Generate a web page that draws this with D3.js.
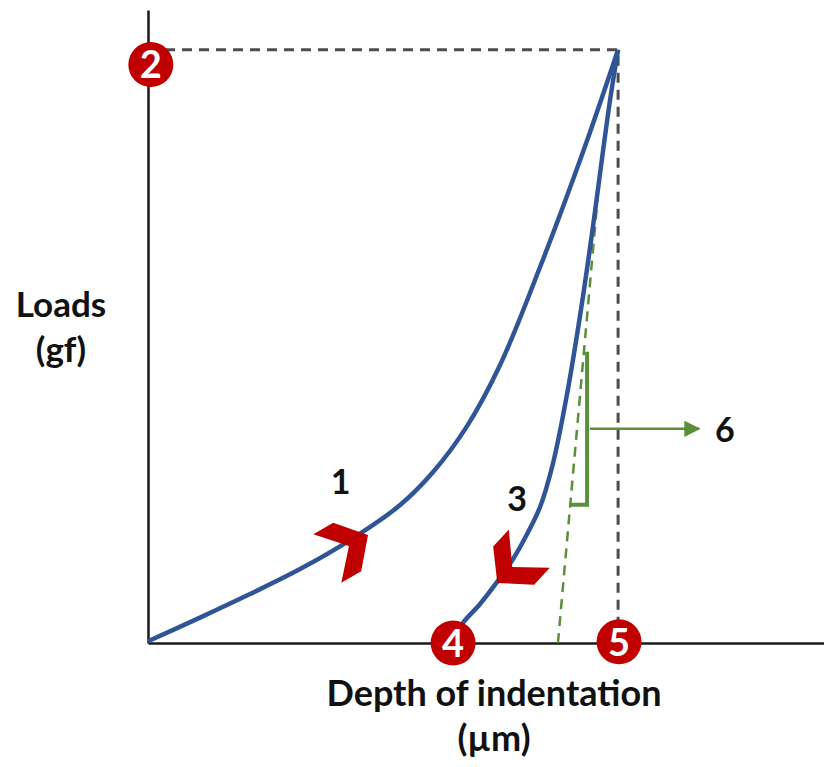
<!DOCTYPE html>
<html><head><meta charset="utf-8">
<script src="https://cdn.jsdelivr.net/npm/d3@7"></script>
<style>
html,body{margin:0;padding:0;background:#fff;}
svg text{font-family:Lato,"Open Sans",sans-serif;font-weight:700;}
</style></head>
<body>
<script>
// ---- data (depth in µm, load in gf; arbitrary units) ----
const loadingDepth = [0, 1.106, 2.170, 3.234, 4.298, 5.362, 6.064, 6.787, 7.489, 8.340, 9.255, 10];
const loadingLoad  = [0.3, 4.28, 8.25, 12.46, 17.35, 23.25, 28.82, 36.56, 46.85, 63.37, 82.80, 100];
const unloadDepth  = [6.468, 6.681, 7.064, 7.426, 7.766, 8.064, 8.340, 8.617, 8.915, 9.213, 9.447, 9.660, 9.830, 10];
const unloadLoad   = [0, 3.20, 6.58, 10.29, 14.17, 18.38, 22.93, 30.35, 41.99, 56.32, 69.14, 81.79, 91.57, 100];
const tangentDepth = [8.72, 9.57];
const tangentLoad  = [0, 75.5];
const peakDepth = 10, peakLoad = 100;
const stepLabels = ["1", "3", "6"];
const stepDepth  = [4.1, 7.85, 12.27];
const stepLoad   = [27.4, 24.6, 36.1];
const markerLabels = ["2", "4", "5"];
const markerDepth  = [0.06, 6.49, 10.02];
const markerLoad   = [97.5, 0, 0.2];
const chevronDepth = [4.68, 7.43];
const chevronLoad  = [18.2, 10.1];
const chevronAngle = [-30, 133];
const bracketDepth = [8.96, 9.34, 9.34];
const bracketLoad  = [23.3, 23.3, 49.1];
const arrowDepth = [9.40, 11.72];
const arrowLoad  = [36.1, 36.1];
const xTitle = ["Depth of indentation", "(µm)"];
const yTitle = ["Loads", "(gf)"];

const W = 824, H = 767;
const x = d3.scaleLinear().domain([0, 14.38]).range([148, 824]);
const y = d3.scaleLinear().domain([0, 106.7]).range([643, 10]);

const svg = d3.select("body").append("svg").attr("width", W).attr("height", H);

const blue = "#2f5597", red = "#c00000", green = "#5b8f3b", gray = "#4d4d4d";

// dashed guide lines to peak
svg.append("path")
  .attr("d", `M${x(0)},${y(peakLoad)}H${x(peakDepth)}V${y(0)}`)
  .attr("fill", "none").attr("stroke", gray).attr("stroke-width", 3)
  .attr("stroke-dasharray", "10,7");

// axes
const xAxis = d3.axisBottom(x).tickValues([]).tickSizeOuter(0);
const yAxis = d3.axisLeft(y).tickValues([]).tickSizeOuter(0);
svg.append("g").attr("transform", `translate(0,${y(0)})`).call(xAxis)
  .select(".domain").attr("stroke", "#1a1a1a").attr("stroke-width", 2.5);
svg.append("g").attr("transform", `translate(${x(0)},0)`).call(yAxis)
  .select(".domain").attr("stroke", "#1a1a1a").attr("stroke-width", 2.5);

// tangent
svg.append("line")
  .attr("x1", x(tangentDepth[0])).attr("y1", y(tangentLoad[0]))
  .attr("x2", x(tangentDepth[1])).attr("y2", y(tangentLoad[1]))
  .attr("stroke", green).attr("stroke-width", 2.5).attr("stroke-dasharray", "10,7");

// curves
const line = d3.line().x(d => x(d[0])).y(d => y(d[1])).curve(d3.curveCatmullRom.alpha(0.5));
svg.append("path").datum(loadingDepth.map((d, i) => [d, loadingLoad[i]]))
  .attr("d", line).attr("fill", "none").attr("stroke", blue).attr("stroke-width", 4.5);
svg.append("path").datum(unloadDepth.map((d, i) => [d, unloadLoad[i]]))
  .attr("d", line).attr("fill", "none").attr("stroke", blue).attr("stroke-width", 4.5);

// stiffness bracket and arrow
svg.append("path")
  .attr("d", d3.line()(bracketDepth.map((d, i) => [x(d), y(bracketLoad[i])])))
  .attr("fill", "none").attr("stroke", green).attr("stroke-width", 4);
svg.append("defs").append("marker").attr("id", "ah")
  .attr("viewBox", "0 0 10 10").attr("refX", 9).attr("refY", 5)
  .attr("markerWidth", 6.5).attr("markerHeight", 6.5).attr("markerUnits", "strokeWidth")
  .attr("orient", "auto")
  .append("path").attr("d", "M0,0L10,5L0,10z").attr("fill", green);
svg.append("line")
  .attr("x1", x(arrowDepth[0])).attr("y1", y(arrowLoad[0]))
  .attr("x2", x(arrowDepth[1])).attr("y2", y(arrowLoad[1]))
  .attr("stroke", green).attr("stroke-width", 2.5).attr("marker-end", "url(#ah)");

// chevrons (direction arrows)
const chevron = "M0,0L-24,-28L-47,-28L-22,0L-47,28L-24,28Z";
chevronDepth.forEach((d, i) => {
  svg.append("path").attr("d", chevron).attr("fill", red)
    .attr("transform", `translate(${x(d)},${y(chevronLoad[i])}) rotate(${chevronAngle[i]})`);
});

// step labels
stepLabels.forEach((t, i) => {
  svg.append("text").attr("x", x(stepDepth[i])).attr("y", y(stepLoad[i]))
    .attr("text-anchor", "middle").attr("dominant-baseline", "central")
    .attr("font-size", 34).attr("fill", "#111").text(t);
});

// numbered markers
markerLabels.forEach((t, i) => {
  const g = svg.append("g").attr("transform", `translate(${x(markerDepth[i])},${y(markerLoad[i])})`);
  g.append("circle").attr("r", 22.5).attr("fill", red);
  g.append("text").attr("text-anchor", "middle").attr("dy", "0.36em")
    .attr("font-size", 38).attr("fill", "#fff").text(t);
});

// axis titles
svg.append("text").attr("text-anchor", "middle").attr("font-size", 36).attr("fill", "#111")
  .selectAll("tspan").data(xTitle).join("tspan")
  .attr("x", 494).attr("y", (d, i) => 706 + i * 45).text(d => d);
svg.append("text").attr("text-anchor", "middle").attr("font-size", 35).attr("fill", "#111")
  .selectAll("tspan").data(yTitle).join("tspan")
  .attr("x", 61).attr("y", (d, i) => 317 + i * 45).text(d => d);
</script>
</body></html>
